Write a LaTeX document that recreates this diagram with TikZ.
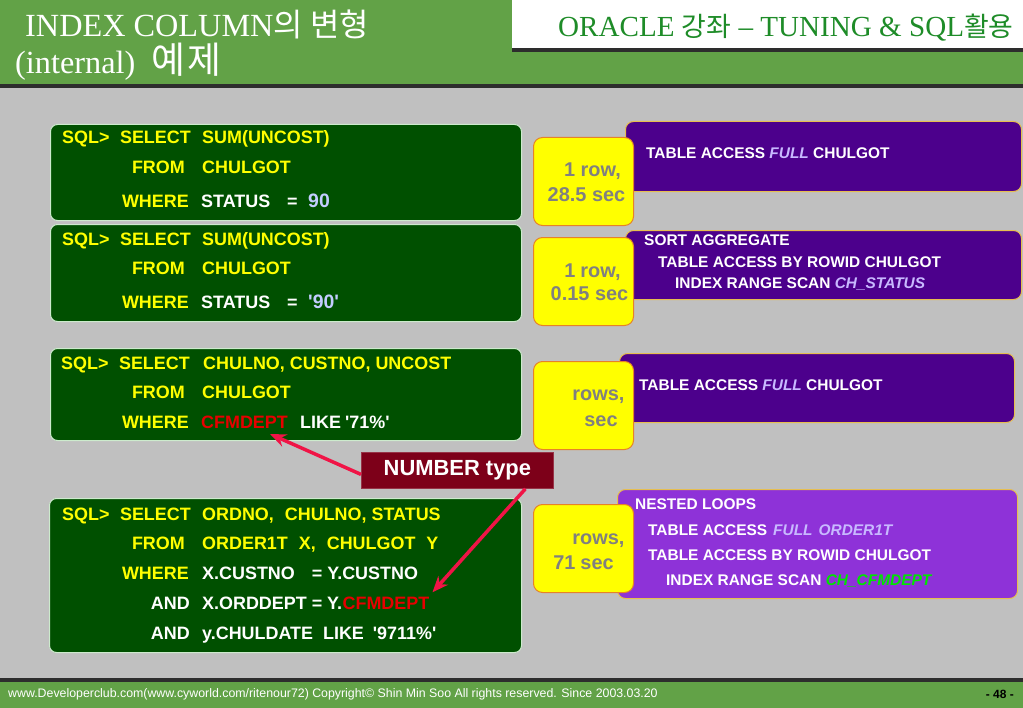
\documentclass[tikz,border=0pt]{standalone}
\usepackage{fontspec}
\setmainfont{Liberation Serif}
\newfontfamily\arialf{Liberation Sans}
\newfontfamily\krf{Noto Sans CJK KR}
\usetikzlibrary{arrows.meta}
\definecolor{hdrgreen}{RGB}{98,162,71}
\definecolor{bggray}{RGB}{192,192,192}
\definecolor{darkline}{RGB}{45,45,45}
\definecolor{sqlgreen}{RGB}{0,80,0}
\definecolor{sqlborder}{RGB}{205,235,205}
\definecolor{sqlyellow}{RGB}{255,255,0}
\definecolor{lblue}{RGB}{195,205,255}
\definecolor{redtxt}{RGB}{230,0,0}
\definecolor{yfill}{RGB}{255,255,0}
\definecolor{yborder}{RGB}{230,130,40}
\definecolor{ytext}{RGB}{128,128,128}
\definecolor{pdark}{RGB}{76,0,140}
\definecolor{plight}{RGB}{142,50,216}
\definecolor{pborder}{RGB}{230,190,80}
\definecolor{lav}{RGB}{200,185,255}
\definecolor{cgreen}{RGB}{0,230,0}
\definecolor{numred}{RGB}{125,0,25}
\definecolor{arrowred}{RGB}{240,20,70}
\definecolor{hdrtext}{RGB}{30,140,40}
\tikzset{
  sqlbox/.style={draw=sqlborder, line width=1bp, fill=sqlgreen, rounded corners=7bp, anchor=north west, inner sep=0},
  ybox/.style={draw=yborder, line width=1bp, fill=yfill, rounded corners=9bp, anchor=north west, inner sep=0},
  pbox/.style={draw=pborder, line width=1bp, rounded corners=8bp, anchor=north west, inner sep=0},
  sq/.style={inner sep=0, font=\arialf\bfseries\fontsize{18}{21}\selectfont},
  kw/.style={sq, text=sqlyellow, anchor=base east},
  yl/.style={sq, text=sqlyellow, anchor=base west},
  wh/.style={sq, text=white, anchor=base west},
  pt/.style={inner sep=0, anchor=base west, text=white, font=\arialf\bfseries\fontsize{15.5}{18}\selectfont},
  yt/.style={inner sep=0, anchor=base, text=ytext, font=\arialf\bfseries\fontsize{20}{24}\selectfont},
  redarr/.style={draw=arrowred, line width=3.5bp, -{Stealth[length=16bp,width=13bp]}}
}
\newcommand{\sq}{\textquotesingle}
\begin{document}
\begin{tikzpicture}[x=1bp,y=-1bp]
\useasboundingbox (0,0) rectangle (1023,708);
% background bands
\fill[bggray] (0,0) rectangle (1023,708);
\fill[hdrgreen] (0,0) rectangle (1023,84);
\fill[white] (512,0) rectangle (1023,48);
\fill[darkline] (512,48) rectangle (1023,52);
\fill[darkline] (0,84) rectangle (1023,88);
\fill[darkline] (0,678) rectangle (1023,682);
\fill[hdrgreen] (0,682) rectangle (1023,708);
% titles
\node[anchor=base west, inner sep=0, text=white, font=\fontsize{32.4}{36}\selectfont] (title1) at (25,37) {INDEX COLUMN{\krf\fontsize{32}{36}\selectfont 의 변형}};
\node[anchor=base west, inner sep=0, text=white, font=\fontsize{32.4}{36}\selectfont] (title2) at (15,74) {(internal)\hspace{16bp}{\krf\fontsize{37}{40}\selectfont 예\hspace{2bp}제}};
\node[anchor=base west, inner sep=0, text=hdrtext, font=\fontsize{29.2}{33}\selectfont] (hdr) at (558,37) {ORACLE {\krf\fontsize{27}{30}\selectfont 강좌} – TUNING \& SQL{\krf\fontsize{27}{30}\selectfont 활용}};
% footer
\node[anchor=base west, inner sep=0, text=white, font=\arialf\fontsize{12.4}{14}\selectfont] (foot) at (8,697) {www.Developerclub.com(www.cyworld.com/ritenour72) Copyright© Shin Min Soo All rights reserved. Since 2003.03.20};
\node[anchor=base east, inner sep=0, text=black, font=\arialf\bfseries\fontsize{12}{14}\selectfont] (page) at (1014,698) {- 48 -};
% SQL boxes
\node[sqlbox, minimum width=471bp, minimum height=96bp] (g1) at (50,124) {};
\node[sqlbox, minimum width=471bp, minimum height=97bp] (g2) at (50,224) {};
\node[sqlbox, minimum width=471bp, minimum height=92bp] (g3) at (50,348) {};
\node[sqlbox, minimum width=472bp, minimum height=154bp] (g4) at (49,498) {};
% purple boxes
\node[pbox, fill=pdark, minimum width=396bp, minimum height=70bp] (p1) at (625,121) {};
\node[pbox, fill=pdark, minimum width=396bp, minimum height=69bp] (p2) at (625,230) {};
\node[pbox, fill=pdark, minimum width=395bp, minimum height=69bp] (p3) at (619,353) {};
\node[pbox, fill=plight, minimum width=400bp, minimum height=109bp] (p4) at (617,489) {};
% yellow boxes
\node[ybox, minimum width=100bp, minimum height=88bp] (y1) at (533,137) {};
\node[ybox, minimum width=100bp, minimum height=88bp] (y2) at (533,237) {};
\node[ybox, minimum width=100bp, minimum height=88bp] (y3) at (533,361) {};
\node[ybox, minimum width=100bp, minimum height=88bp] (y4) at (533,504) {};
% box 1 text
\node[yl] (a1) at (62,144) {SQL>};
\node[kw] (a2) at (191,144) {SELECT};
\node[yl] (a3) at (202,144) {SUM(UNCOST)};
\node[kw] (a4) at (185,174) {FROM};
\node[yl] (a5) at (202,174) {CHULGOT};
\node[kw] (a6) at (189,207) {WHERE};
\node[wh] (a7) at (201,207) {STATUS};
\node[wh] (a8) at (287,207) {=};
\node[sq, anchor=base west, text=lblue, font=\arialf\bfseries\fontsize{19.5}{22}\selectfont] (a9) at (308,207) {90};
% box 2 text
\node[yl] (b1) at (62,245) {SQL>};
\node[kw] (b2) at (191,245) {SELECT};
\node[yl] (b3) at (202,245) {SUM(UNCOST)};
\node[kw] (b4) at (185,274) {FROM};
\node[yl] (b5) at (202,274) {CHULGOT};
\node[kw] (b6) at (189,308) {WHERE};
\node[wh] (b7) at (201,308) {STATUS};
\node[wh] (b8) at (287,308) {=};
\node[sq, anchor=base west, text=lblue, font=\arialf\bfseries\fontsize{19.5}{22}\selectfont] (b9) at (308,308) {\sq90\sq};
% box 3 text
\node[yl] (c1) at (61,369) {SQL>};
\node[kw] (c2) at (190,369) {SELECT};
\node[yl] (c5) at (203,369) {CHULNO, CUSTNO, UNCOST};
\node[kw] (c6) at (185,398) {FROM};
\node[yl] (c7) at (202,398) {CHULGOT};
\node[kw] (c8) at (189,428) {WHERE};
\node[sq, anchor=base west, text=redtxt] (c3) at (201,428) {CFMDEPT};
\node[wh] (c9) at (300,428) {LIKE};
\node[wh] (c10) at (345,428) {\sq71\%\sq};
% box 4 text
\node[yl] (d1) at (62,520) {SQL>};
\node[kw] (d2) at (191,520) {SELECT};
\node[yl] (d3) at (202,520) {ORDNO,\hspace{11bp}CHULNO, STATUS};
\node[kw] (d4) at (185,549) {FROM};
\node[yl] (d5) at (202,549) {ORDER1T\hspace{11bp}X,\hspace{11bp}CHULGOT\hspace{11bp}Y};
\node[kw] (d6) at (189,579) {WHERE};
\node[wh] (d7) at (202,579) {X.CUSTNO\hspace{17bp}= Y.CUSTNO};
\node[sq, anchor=base east, text=white] (d8) at (190,609) {AND};
\node[wh] (d9) at (202,609) {X.ORDDEPT = Y.};
\node[sq, anchor=base west, text=redtxt] (c4) at (d9.base east) {CFMDEPT};
\node[sq, anchor=base east, text=white] (d10) at (190,639) {AND};
\node[wh] (d11) at (202,639) {y.CHULDATE\hspace{10bp}LIKE\hspace{9bp}\sq9711\%\sq};
% purple texts
\node[pt] (q1) at (646,158.5) {TABLE ACCESS {\itshape\color{lav}FULL} CHULGOT};
\node[pt] (q2) at (644,245.5) {SORT AGGREGATE};
\node[pt] (q3) at (658,267.5) {TABLE ACCESS BY ROWID CHULGOT};
\node[pt] (q4) at (675,288.5) {INDEX RANGE SCAN {\itshape\color{lav}CH\_STATUS}};
\node[pt] (q5) at (639,390) {TABLE ACCESS {\itshape\color{lav}FULL} CHULGOT};
\node[pt] (q6) at (635,509.5) {NESTED LOOPS};
\node[pt] (q7) at (648,535.5) {TABLE ACCESS\hspace{6bp}{\itshape\color{lav}FULL\hspace{6bp}ORDER1T}};
\node[pt] (q8) at (648,560.5) {TABLE ACCESS BY ROWID CHULGOT};
\node[pt] (q9) at (666,585.5) {INDEX RANGE SCAN {\itshape\color{cgreen}CH\_CFMDEPT}};
% yellow texts
\node[yt] (r1) at (592.5,177) {1 row,};
\node[yt] (r2) at (586.5,202) {28.5 sec};
\node[yt] (r3) at (592.5,277) {1\hspace{5bp}row,};
\node[yt] (r4) at (589.5,300) {0.15 sec};
\node[yt] (r5) at (598.5,400) {rows,};
\node[yt] (r6) at (601,426) {sec};
\node[yt] (r7) at (598.5,544) {rows,};
\node[yt] (r8) at (583.5,569) {71\hspace{5bp}sec};
% NUMBER type callout
\node[fill=numred, draw=numred!80!white, line width=0.8bp, anchor=north west, minimum width=192bp, minimum height=36bp, inner sep=0] (num) at (361,452) {};
\node[inner sep=0, text=white, font=\arialf\bfseries\fontsize{22}{26}\selectfont] (numt) at (num.center) {NUMBER type};
\coordinate (t1) at (270,434);
\draw[redarr] ([yshift=-4bp]num.west) -- (t1);
\draw[redarr] ([xshift=68bp]num.south) -- ([shift={(3,-4)}]c4.north east);
\end{tikzpicture}
\end{document}
